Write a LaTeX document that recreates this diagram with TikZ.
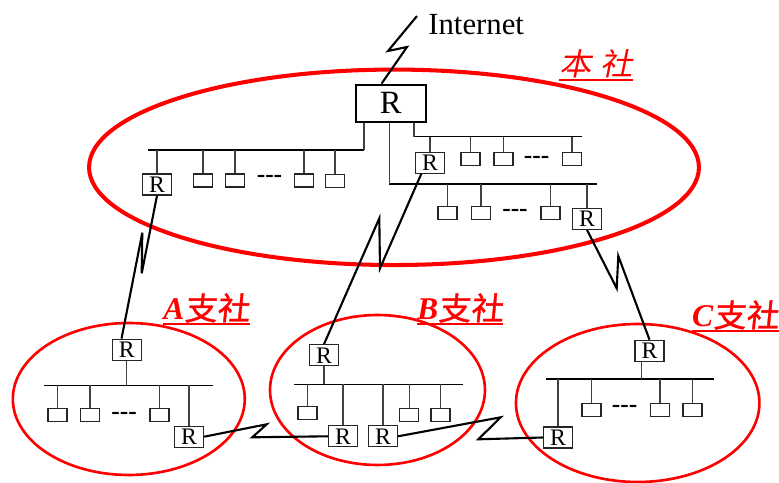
\documentclass[tikz,border=0pt]{standalone}
\usepackage{fontspec}
\setmainfont{Liberation Serif}
\newfontfamily\cjksl[FakeSlant=0.2,FakeStretch=1.05]{Noto Sans CJK SC}
\newfontfamily\cjkb[FakeBold=1.2,FakeSlant=0.1,FakeStretch=1.03]{Noto Sans CJK SC}
\usepackage{tikz}
\usetikzlibrary{shapes.geometric,positioning,calc}

% underlined site name
\newcommand\ulbl[1]{\setbox0\hbox{#1}\rlap{\copy0}\rule[-2.8pt]{\wd0}{1.1pt}}

\begin{document}
\begin{tikzpicture}[
  x=0.02cm, y=-0.02cm,
  site/.style={draw=red, ellipse, inner sep=0pt, line width=1.5pt},
  gw/.style={draw, line width=1.4pt, rectangle, minimum width=1.4cm, minimum height=0.74cm, inner sep=0pt, font=\fontsize{18.5}{18.5}\selectfont},
  rtr/.style={draw=black!85, line width=0.7pt, rectangle, minimum width=0.58cm, minimum height=0.42cm, inner sep=0pt, font=\fontsize{13.5}{13.5}\selectfont},
  host/.style={draw=black!85, line width=0.7pt, rectangle, minimum width=0.38cm, minimum height=0.26cm, inner sep=0pt},
  ellip/.style={inner sep=0pt, font=\bfseries\fontsize{14.5}{14.5}\selectfont},
  bus/.style={line width=0.85pt},
  drop/.style={line width=0.75pt, black!75},
  zap/.style={line width=1.2pt},
  lbl/.style={text=red, anchor=base west, inner sep=0pt, font=\fontsize{17.5}{17.5}\selectfont}
]
\useasboundingbox (0,0) rectangle (779,483);

% sites
\node[site, line width=2.3pt, minimum width=12.2cm, minimum height=3.91cm] (hq) at (394,167.3) {};
\node[site, minimum width=4.64cm, minimum height=3.04cm] (brA) at (128.8,399) {};
\node[site, minimum width=4.3cm, minimum height=3cm] (brB) at (377.5,390) {};
\node[site, minimum width=4.87cm, minimum height=3.16cm] (brC) at (637.7,403) {};

\node[lbl] (hqlbl) at (559,76) {\ulbl{\cjksl 本\hspace{5pt}社}};
\node[lbl] (lblA) at (163,320) {\ulbl{\fontsize{18}{18}\selectfont\textbf{\textit{A}}\cjkb 支社}};
\node[lbl] (lblB) at (416.7,320) {\ulbl{\fontsize{18}{18}\selectfont\textbf{\textit{B}}\cjkb 支社}};
\node[lbl] (lblC) at (691.7,327) {\ulbl{\fontsize{18}{18}\selectfont\textbf{\textit{C}}\cjkb 支社}};

% head office
\node[gw] (hqR) at (390.8,103.3) {R};
\node[anchor=base west, inner sep=0pt, font=\fontsize{17.5}{17.5}\selectfont] (inet) at (428,35) {Internet};

\coordinate (hqL1) at (148,150);
\coordinate (hqL2) at (364,150);
\node[rtr] (hqRa) at (157,184.5) {R};
\node[host] (h1) at (203,180.5) {};
\node[host] (h2) at (235,180.5) {};
\node[host] (h3) at (304,180.5) {};
\node[host] (h4) at (335,181) {};
\node[ellip] (g1) at (269.5,179) {-{}-{}-};

\coordinate (hqU1) at (414,136.7);
\coordinate (hqU2) at (582,136.7);
\node[rtr] (hqRb) at (430,162.7) {R};
\node[host] (h5) at (470.5,158.7) {};
\node[host] (h6) at (503.5,158.7) {};
\node[host] (h7) at (572,158.7) {};
\node[ellip] (g2) at (536.7,160) {-{}-{}-};

\coordinate (hqD1) at (389.3,184);
\coordinate (hqD2) at (597.3,184);
\node[host] (h8) at (447.5,213) {};
\node[host] (h9) at (481,213) {};
\node[host] (h10) at (550.5,213) {};
\node[rtr] (hqRc) at (587,218.8) {R};
\node[ellip] (g3) at (515,213.3) {-{}-{}-};

\draw[bus] (hqL1) -- (hqL2);
\draw[bus] (hqU1) -- (hqU2);
\draw[bus] (hqD1) -- (hqD2);
\draw[drop] (hqL2 |- hqR.south) -- (hqL2);
\draw[drop] (hqU1 |- hqR.south) -- (hqU1);
\draw[drop] (hqD1 |- hqR.south) -- (hqD1);
\foreach \n in {hqRa,h1,h2,h3,h4} \draw[drop] (\n.north) -- (\n.north |- hqL1);
\foreach \n in {hqRb,h5,h6,h7} \draw[drop] (\n.north) -- (\n.north |- hqU1);
\foreach \n in {h8,h9,h10,hqRc} \draw[drop] (\n.north) -- (\n.north |- hqD1);

% branch A
\coordinate (aBus1) at (44,385.3);
\coordinate (aBus2) at (212.7,385.3);
\node[rtr] (rA1) at (126.7,349.7) {R};
\node[host] (h11) at (57.5,414.7) {};
\node[host] (h12) at (90,414.7) {};
\node[host] (h13) at (159.5,414.7) {};
\node[ellip] (g4) at (124.2,415.7) {-{}-{}-};
\node[rtr] (rA2) at (189,436.7) {R};
\draw[bus] (aBus1) -- (aBus2);
\draw[drop] (rA1.south) -- (rA1.south |- aBus1);
\foreach \n in {h11,h12,h13,rA2} \draw[drop] (\n.north) -- (\n.north |- aBus1);

% branch B
\coordinate (bBus1) at (294.3,384.3);
\coordinate (bBus2) at (463.3,384.3);
\node[rtr] (rB1) at (324,355.3) {R};
\node[host] (h14) at (307.5,413) {};
\node[host] (h15) at (409.2,414.7) {};
\node[host] (h16) at (440.5,414.7) {};
\node[rtr] (rB2) at (343,436.3) {R};
\node[rtr] (rB3) at (383,436.3) {R};
\draw[bus] (bBus1) -- (bBus2);
\draw[drop] (rB1.south) -- (rB1.south |- bBus1);
\foreach \n in {h14,rB2,rB3,h15,h16} \draw[drop] (\n.north) -- (\n.north |- bBus1);

% branch C
\coordinate (cBus1) at (545.7,379);
\coordinate (cBus2) at (714,379);
\coordinate (cTap) at (641.7,379);
\node[rtr] (rC1) at (649.5,350.8) {R};
\node[host] (h17) at (591.5,409.7) {};
\node[host] (h18) at (660,409.7) {};
\node[host] (h19) at (692.5,409.7) {};
\node[ellip] (g5) at (624.7,409.3) {-{}-{}-};
\node[rtr] (rC2) at (558,437.5) {R};
\draw[bus] (cBus1) -- (cBus2);
\draw[drop] (rC1.south -| cTap) -- (cTap);
\foreach \n in {rC2,h17,h18,h19} \draw[drop] (\n.north) -- (\n.north |- cBus1);

% leased lines
\coordinate (zi0) at (417,16);
\coordinate (zi1) at (388,51);
\coordinate (zi2) at (407,47);
\draw[zap] (zi0) -- (zi1) -- (zi2) -- (hqR.115);

\coordinate (za1) at (141.7,273.3);
\coordinate (za2) at (142.3,232.7);
\draw[zap] (hqRa.south) -- (za1) -- (za2) -- (rA1.115);

\coordinate (zb1) at (380,268.3);
\coordinate (zb2) at (379.3,218.3);
\draw[zap] (hqRb.-128) -- (zb1) -- (zb2) -- (rB1.north);

\coordinate (zc1) at (616.7,288.3);
\coordinate (zc2) at (618.3,256);
\draw[zap] (hqRc.south) -- (zc1) -- (zc2) -- (rC1.north);

\coordinate (zab1) at (266.7,424.3);
\coordinate (zab2) at (252.3,437.3);
\draw[zap] (rA2.east) -- (zab1) -- (zab2) -- (rB2.west);

\coordinate (zbc1) at (500.7,417.3);
\coordinate (zbc2) at (478.3,439.3);
\draw[zap] (rB3.east) -- (zbc1) -- (zbc2) -- (rC2.west);

\end{tikzpicture}
\end{document}
